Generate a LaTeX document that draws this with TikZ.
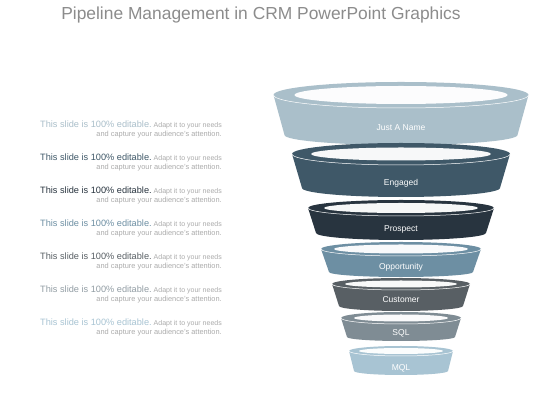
\documentclass[tikz,border=0pt]{standalone}
\usepackage{fontspec}
\setmainfont{Liberation Sans}
\usepackage{xcolor}
\usepackage{tikz}

\definecolor{titlegray}{HTML}{8C8C8C}
\definecolor{smallgray}{HTML}{ABABAB}
\definecolor{namecol}{HTML}{AABFCA}
\definecolor{engagedcol}{HTML}{3F5868}
\definecolor{prospectcol}{HTML}{28343F}
\definecolor{opportcol}{HTML}{6D8FA3}
\definecolor{customercol}{HTML}{585F64}
\definecolor{sqlcol}{HTML}{7F8C94}
\definecolor{mqlcol}{HTML}{A8C4D3}

\tikzset{
  ringlabel/.style={text=white, font=\fontsize{8.5}{10}\selectfont, inner sep=0pt},
  smalltext/.style={text=smallgray, font=\fontsize{7.4}{8}\selectfont, inner sep=0pt, anchor=base east},
}

% one ring of the funnel: top y, top radii, bottom y, bottom radii, hole radii, colour
\newcommand{\funnelring}[9]{%
  \fill[#9] (401-#2,#1) -- (401-#5,#4) arc[start angle=180, end angle=360, x radius=#5, y radius=#6]
    -- (401+#2,#1) arc[start angle=0, end angle=180, x radius=#2, y radius=#3] -- cycle;
  \draw[white, line width=0.5pt] (401-#2,#1) arc[start angle=180, end angle=360, x radius=#2, y radius=#3];
  \fill[white!96!#9] (401,#1) ellipse [x radius=#7, y radius=#8];
}

% one row of text on the left
\newcommand{\editrow}[3]{%
  \node[anchor=base east, inner sep=0pt] (#1a) at (222,#2)
    {{\fontsize{9.2}{10}\selectfont\color{#3}This slide is 100\% editable.}\hspace{2pt}{\fontsize{7}{8}\selectfont\color{smallgray}Adapt it to your needs}};
  \node[smalltext] (#1b) at (222,#2-9) {and capture your audience's attention.};
}

\begin{document}
\begin{tikzpicture}[x=1pt, y=1pt]
\useasboundingbox[fill=white] (0,0) rectangle (560,420);

\node[anchor=base, text=titlegray, font=\fontsize{17.4}{20}\selectfont] (title) at (261,400)
  {Pipeline Management in CRM PowerPoint Graphics};

\editrow{rowone}{292}{namecol}
\editrow{rowtwo}{259}{engagedcol}
\editrow{rowthree}{226}{prospectcol}
\editrow{rowfour}{193}{opportcol}
\editrow{rowfive}{160}{customercol}
\editrow{rowsix}{127}{sqlcol!85!white}
\editrow{rowseven}{94}{mqlcol}

\funnelring{325}{127.5}{13}{285}{116.5}{10}{106.5}{9}{namecol}
\funnelring{266}{109}{11}{232}{99}{9}{90}{6.5}{engagedcol}
\funnelring{212}{93}{8}{187}{85}{7}{77}{5}{prospectcol}
\funnelring{171}{80}{7}{148}{72}{5}{67}{4.5}{opportcol}
\funnelring{136}{69}{6}{114}{62}{5}{56}{3.5}{customercol}
\funnelring{102}{60}{6}{83}{54}{4}{47}{3.5}{sqlcol}
\funnelring{69}{52}{5}{49}{47}{4}{42}{3}{mqlcol}

\node[ringlabel] (justname) at (401,292) {Just A Name};
\node[ringlabel] (engaged) at (401,237) {Engaged};
\node[ringlabel] (prospect) at (401,191) {Prospect};
\node[ringlabel] (opportunity) at (401,153) {Opportunity};
\node[ringlabel] (customer) at (401,120) {Customer};
\node[ringlabel] (sql) at (401,87) {SQL};
\node[ringlabel] (mql) at (401,52) {MQL};
\end{tikzpicture}
\end{document}
